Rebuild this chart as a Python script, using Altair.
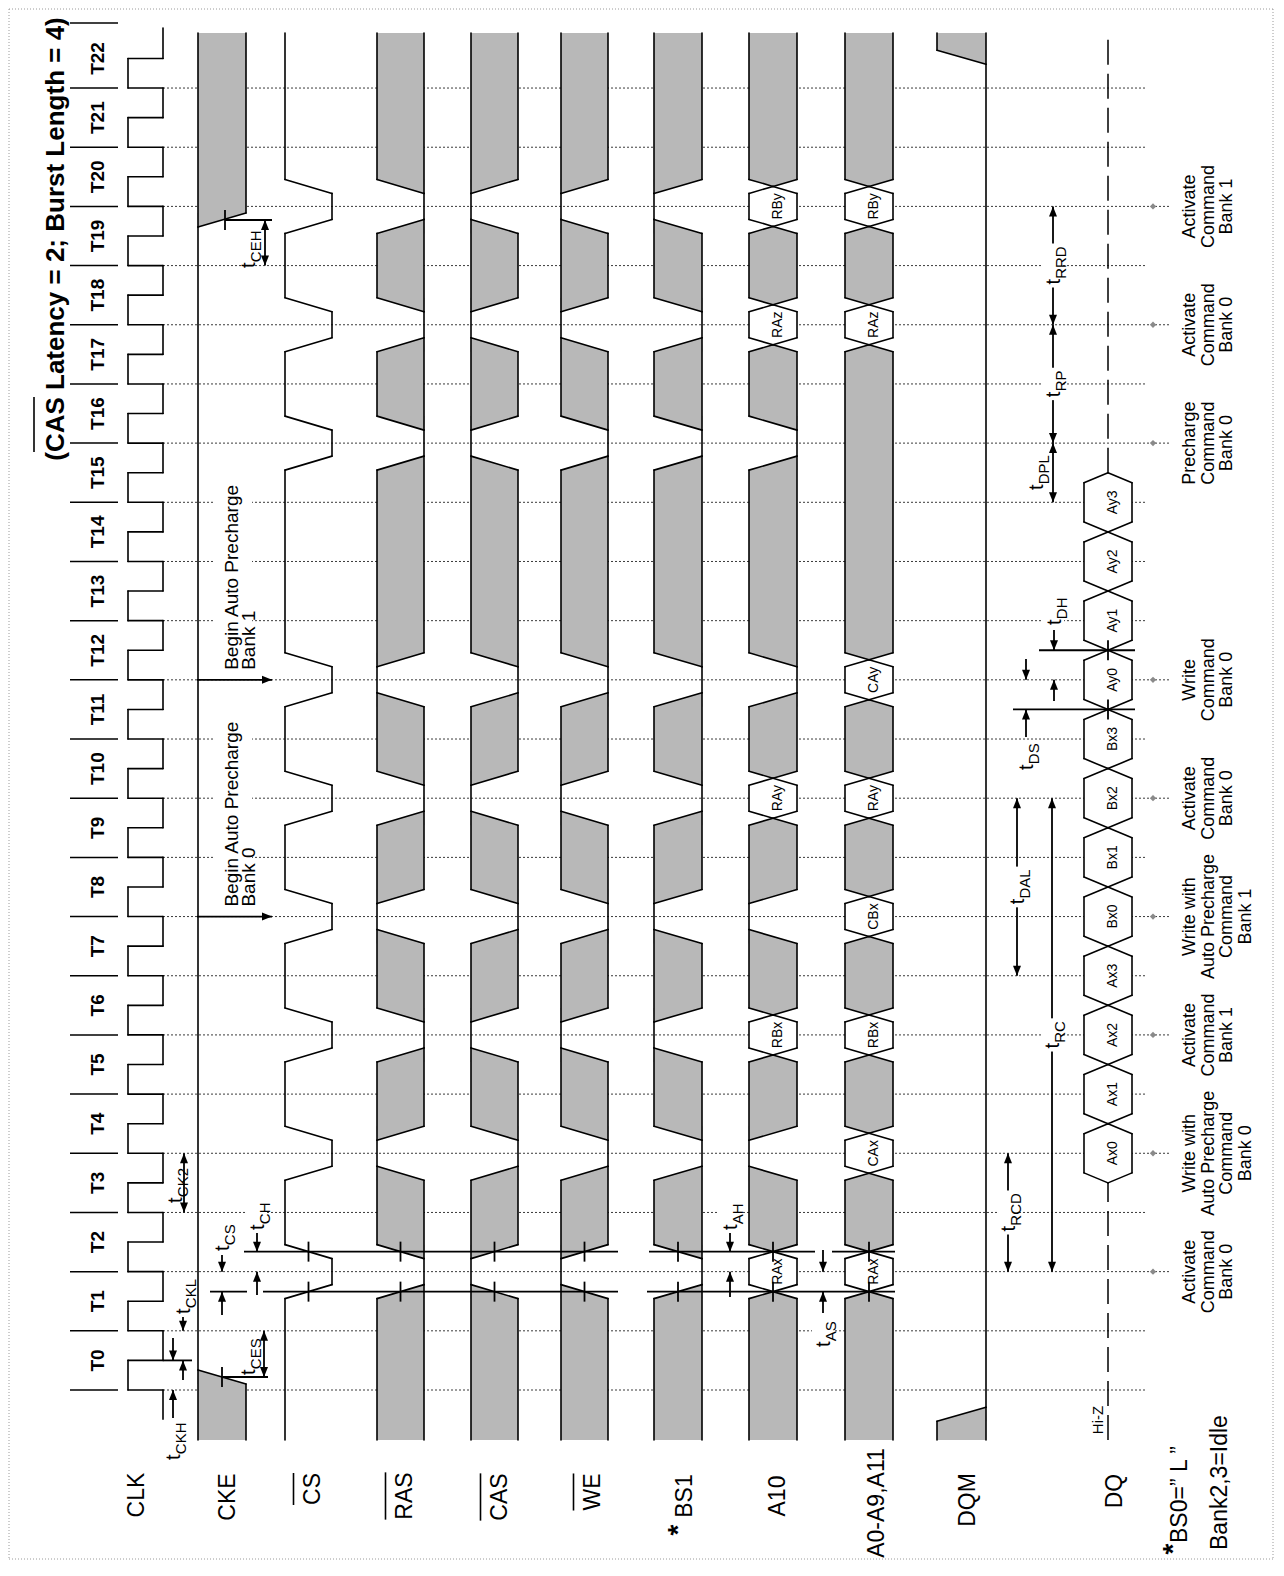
import altair as alt
import pandas as pd

# ============================================================== data
clock_edges = list(range(23))                      # rising CLK edges T0 ... T22
cycle_names = ["T%d" % k for k in clock_edges]

cmd_edges = [2, 4, 6, 8, 10, 12, 16, 18, 20]
cmd_notes = [
    "Activate\nCommand\nBank 0",
    "Write with\nAuto Precharge\nCommand\nBank 0",
    "Activate\nCommand\nBank 1",
    "Write with\nAuto Precharge\nCommand\nBank 1",
    "Activate\nCommand\nBank 0",
    "Write\nCommand\nBank 0",
    "Precharge\nCommand\nBank 0",
    "Activate\nCommand\nBank 0",
    "Activate\nCommand\nBank 1",
]
cs_at_cmd = ["L", "L", "L", "L", "L", "L", "L", "L", "L"]
ras_at_cmd = ["L", "H", "L", "H", "L", "H", "L", "L", "L"]
cas_at_cmd = ["H", "L", "H", "L", "H", "L", "H", "H", "H"]
we_at_cmd = ["H", "L", "H", "L", "H", "L", "L", "H", "H"]
bs1_at_cmd = ["L", "L", "H", "H", "L", "L", "L", "L", "H"]
a10_at_cmd = ["RAx", "H", "RBx", "H", "RAy", "L", "L", "RAz", "RBy"]
adr_at_cmd = ["RAx", "CAx", "RBx", "CBx", "RAy", "CAy", "X", "RAz", "RBy"]

dq_edges = [4, 5, 6, 7, 8, 9, 10, 11, 12, 13, 14, 15]
dq_words = ["Ax0", "Ax1", "Ax2", "Ax3", "Bx0", "Bx1", "Bx2", "Bx3",
            "Ay0", "Ay1", "Ay2", "Ay3"]

cke_valid_high = [0.22, 19.77]     # CKE defined high between these times (cycles)
dqm_valid_low = [-0.41, 22.52]     # DQM defined low between these times (cycles)

signal_names = ["CLK", "CKE", "CS", "RAS", "CAS", "WE", "BS1", "A10",
                "A0-A9,A11", "DQM", "DQ"]
overlined = ["CS", "RAS", "CAS", "WE"]
title_text = "(CAS Latency = 2; Burst Length = 4)"
begin_ap_edges = [8, 12]
begin_ap_notes = ["Begin Auto Precharge\nBank 0", "Begin Auto Precharge\nBank 1"]

# ============================================================== layout
PX = 59.18            # page pixels per clock cycle
Y_T0 = 1390.0         # page row of edge T0


def T(row):
    return (Y_T0 - row) / PX


X_MIN, X_MAX = 8.0, 1274.0
WIDTH, HEIGHT = 1266, 1552
T_MIN, T_MAX = T(8 + HEIGHT), T(8)

WAVE_T0, WAVE_T1, CLK_T1 = T(1440), T(33), T(28)
WIN = 20 / PX          # half width of a command window
SL = 7 / PX            # half height of a slanted transition
DQ_SL = 10 / PX
TICK = 10 / PX

LANE = {"CLK": (128, 163), "CKE": (198, 246), "CS": (285, 332), "RAS": (377, 424),
        "CAS": (471, 518), "WE": (561, 608), "BS1": (654, 702), "A10": (749, 797),
        "A0-A9,A11": (845, 893), "DQM": (937, 986), "DQ": (1084, 1132)}
NAME_BASE = {"CLK": 137, "CKE": 228, "CS": 313, "RAS": 405, "CAS": 500, "WE": 593,
             "BS1": 685, "A10": 778, "A0-A9,A11": 877, "DQM": 968, "DQ": 1115}
NAME_ROW = {"CLK": 1495, "CKE": 1497, "CS": 1489, "RAS": 1496, "CAS": 1497, "WE": 1492,
            "BS1": 1496, "A10": 1496, "A0-A9,A11": 1503, "DQM": 1500, "DQ": 1491}
ARIAL = {"A": .667, "B": .667, "C": .722, "D": .722, "E": .667, "H": .722, "K": .667,
         "L": .556, "P": .667, "R": .722, "S": .667, "W": .944, "2": .556}
FONT = "Liberation Sans"
HATCH = "#b8b8b8"
SUB_SIZE = 15

strokes, bodies, tips, dashes, vlabels, heads, boxes, dots = [], [], [], [], [], [], [], []


def seg(x1, t1, x2, t2, kind="wave"):
    strokes.append({"x": x1, "x2": x2, "t": t1, "t2": t2, "kind": kind})


def tip(L, R, base_t, apex_x, apex_t, kind):
    """triangular end of a bus / don't-care shape, drawn as a custom symbol"""
    r = (R - L) / 2.0
    c = (L + R) / 2.0
    ax = (apex_x - c) / r
    ay = -(apex_t - base_t) * PX / r
    path = "M-1.02,0L1.02,0L%.4f,%.4fZ" % (ax, ay)
    tips.append({"x": c, "t": base_t, "shape": path, "size": (2 * r) ** 2, "kind": kind})


def timeline(default, edges, states, win):
    out, cur = [], WAVE_T0
    for e, s in zip(edges, states):
        if s == default:
            continue
        a, b = e - win, e + win
        if a > cur + 1e-9:
            out.append([cur, a, default])
        out.append([a, b, s])
        cur = b
    out.append([cur, WAVE_T1, default])
    return out


LEVEL = ("H", "L")
EPS = 0.8 / PX


def draw(name, segs, sl):
    L, R = LANE[name]
    C = (L + R) / 2.0
    side = lambda s: L if s == "H" else R
    n = len(segs)
    for i, (ta, tb, s) in enumerate(segs):
        sp = segs[i - 1][2] if i > 0 else None
        sn = segs[i + 1][2] if i < n - 1 else None
        if s in LEVEL:
            x = side(s)
            seg(x, ta + sl if sp else ta, x, tb - sl if sn else tb)
            if sp in LEVEL and sp != s:
                seg(side(sp), ta - sl, x, ta + sl)
            continue
        if s == "Z":
            dashes.append({"x": C, "x2": C, "t": ta, "t2": tb})
            continue
        kind = "dc" if s == "X" else "valid"
        # bottom end
        if sp is None:
            bl = br = ta
            body0 = ta
        elif sp in LEVEL:
            if sp == "H":
                bl, br = ta - sl, ta + sl
            else:
                bl, br = ta + sl, ta - sl
            seg(L, bl, R, br)
            tip(L, R, ta + sl, side(sp), ta - sl, kind)
            body0 = ta + sl - EPS
        else:
            bl = br = ta + sl
            seg(L, bl, C, ta)
            seg(C, ta, R, br)
            tip(L, R, ta + sl, C, ta, kind)
            body0 = ta + sl - EPS
        # top end
        if sn is None:
            tl = tr = tb
            body1 = tb
        elif sn in LEVEL:
            if sn == "H":
                tl, tr = tb + sl, tb - sl
            else:
                tl, tr = tb - sl, tb + sl
            seg(L, tl, R, tr)
            tip(L, R, tb - sl, side(sn), tb + sl, kind)
            body1 = tb - sl + EPS
        else:
            tl = tr = tb - sl
            seg(L, tl, C, tb)
            seg(C, tb, R, tr)
            tip(L, R, tb - sl, C, tb, kind)
            body1 = tb - sl + EPS
        bodies.append({"x": L, "x2": R, "t": body0, "t2": body1, "kind": kind})
        seg(L, bl, L, tl)
        seg(R, br, R, tr)
        if s != "X":
            vlabels.append({"x": C + 5, "t": (ta + tb) / 2, "text": s})


# ---- clock
cl, cr = LANE["CLK"]
seg(cr, WAVE_T0, cr, clock_edges[0])
for k in clock_edges:
    seg(cr, k, cl, k)
    seg(cl, k, cl, k + 0.5)
    seg(cl, k + 0.5, cr, k + 0.5)
    seg(cr, k + 0.5, cr, k + 1 if k < clock_edges[-1] else CLK_T1)

# ---- control / address lanes
draw("CKE", [[WAVE_T0, cke_valid_high[0], "X"], [cke_valid_high[0], cke_valid_high[1], "H"],
             [cke_valid_high[1], WAVE_T1, "X"]], SL)
draw("CS", timeline("H", cmd_edges, cs_at_cmd, WIN), SL)
draw("RAS", timeline("X", cmd_edges, ras_at_cmd, WIN), SL)
draw("CAS", timeline("X", cmd_edges, cas_at_cmd, WIN), SL)
draw("WE", timeline("X", cmd_edges, we_at_cmd, WIN), SL)
draw("BS1", timeline("X", cmd_edges, bs1_at_cmd, WIN), SL)
draw("A10", timeline("X", cmd_edges, a10_at_cmd, WIN), SL)
draw("A0-A9,A11", timeline("X", cmd_edges, adr_at_cmd, WIN), SL)
draw("DQM", [[WAVE_T0, dqm_valid_low[0], "X"], [dqm_valid_low[0], dqm_valid_low[1], "L"],
             [dqm_valid_low[1], WAVE_T1, "X"]], SL)
draw("DQ", timeline("Z", dq_edges, dq_words, 0.5), DQ_SL)

# ---- clock edge guide lines (dotted)
for k in clock_edges:
    dots.append({"x": 163, "x2": 1170 if k in cmd_edges else 1147, "t": k, "t2": k})

# ---- annotation lines
SETUP_T, HOLD_T = cmd_edges[0] - WIN, cmd_edges[0] + WIN
DS_T, DH_T = dq_edges[8] - 0.5, dq_edges[8] + 0.5
ann = [
    (223, cke_valid_high[0], 268, cke_valid_high[0]),
    (225, cke_valid_high[1], 272, cke_valid_high[1]),
    (163, 0.5, 192, 0.5),
    (210, SETUP_T, 247, SETUP_T), (263, SETUP_T, 618, SETUP_T), (647, SETUP_T, 895, SETUP_T),
    (244, HOLD_T, 618, HOLD_T), (649, HOLD_T, 815, HOLD_T), (832, HOLD_T, 895, HOLD_T),
    (1013, DS_T, 1135, DS_T), (1039, DH_T, 1135, DH_T),
]
for e in begin_ap_edges:
    ann.append((197, e, 272, e))
    heads.append({"x": 272, "t": e, "dir": "right"})
for x1, t1, x2, t2 in ann:
    seg(x1, t1, x2, t2, "ann")

ticks = [(222, cke_valid_high[0]), (225, cke_valid_high[1])]
for nm in ["CS", "RAS", "CAS", "WE", "BS1", "A10", "A0-A9,A11"]:
    c = sum(LANE[nm]) / 2
    ticks += [(c, SETUP_T), (c, HOLD_T)]
ticks += [(1108, DS_T), (1108, DH_T)]
for x, t in ticks:
    seg(x, t - TICK, x, t + TICK, "ann")


def arrow(x, t_tail, t_tip):
    seg(x, t_tail, x, t_tip, "ann")
    heads.append({"x": x, "t": t_tip, "dir": "up" if t_tip > t_tail else "down"})


def darrow(x, ta, tb):
    seg(x, ta, x, tb, "ann")
    heads.append({"x": x, "t": ta, "dir": "down" if ta < tb else "up"})
    heads.append({"x": x, "t": tb, "dir": "up" if ta < tb else "down"})


arrow(173, T(1418), 0); arrow(173, T(1338), 0.5)            # tCKH
arrow(183, T(1380), 0.5); arrow(183, T(1313), 1)            # tCKL
darrow(184, 3, 4)                                           # tCK2
darrow(264, cke_valid_high[0], 1)                           # tCES
darrow(265, cke_valid_high[1], 19)                          # tCEH
arrow(222, T(1255), 2); arrow(222, T(1315), SETUP_T)        # tCS
arrow(257, T(1232), HOLD_T); arrow(257, T(1295), 2)         # tCH
arrow(730, T(1232), HOLD_T); arrow(730, T(1297), 2)         # tAH
arrow(823, T(1250), 2); arrow(823, T(1313), SETUP_T)        # tAS
darrow(1008, 2, 4)                                          # tRCD
darrow(1052, 2, 10)                                         # tRC
darrow(1017, 7, 10)                                         # tDAL
arrow(1026, T(737), DS_T); arrow(1026, T(659), 12)          # tDS
arrow(1054, T(701), 12); arrow(1054, T(630), DH_T)          # tDH
darrow(1053, 15, 16)                                        # tDPL
darrow(1053, 16, 18)                                        # tRP
darrow(1053, 18, 20)                                        # tRRD

# timing labels: subscript, centre x, start time, centre time, white gap behind
tl_specs = [
    ("CKH", 173, T(1460), None, True), ("CKL", 183, T(1314), None, True),
    ("CK2", 175, T(1203), None, False), ("CES", 248, T(1375), None, False),
    ("CEH", 248, T(268), None, False), ("CS", 222, T(1251), None, True),
    ("CH", 257, T(1230), None, True), ("AH", 730, T(1230), None, True),
    ("AS", 823, T(1347), None, True), ("RCD", 1008, None, 3.0, True),
    ("RC", 1052, None, 6.0, True), ("DAL", 1017, None, 8.5, True),
    ("DS", 1026, T(770), None, True), ("DH", 1054, T(625), None, True),
    ("DPL", 1036, None, 15.5, False), ("RP", 1053, None, 17.0, True),
    ("RRD", 1053, None, 19.0, True),
]
t_main, t_sub = [], []
for sub, xc, ts, tc, gap in tl_specs:
    w = 0.278 * 20 + sum(ARIAL[c] for c in sub) * SUB_SIZE
    if ts is None:
        ts = tc - (w / 2) / PX
    t_main.append({"x": xc + 1, "t": ts, "text": "t"})
    t_sub.append({"x": xc + 8, "t": ts + 5.8 / PX, "text": sub})
    if gap:
        boxes.append({"x": xc - 11, "x2": xc + 10, "t": ts - 3 / PX, "t2": ts + (w + 3) / PX})

for e in begin_ap_edges:
    r0 = Y_T0 - e * PX - 8
    boxes.append({"x": 213, "x2": 252, "t": T(r0), "t2": T(r0 - 190)})

# frame
frame = [(9, T(9), 1273, T(9)), (9, T(1559), 1273, T(1559)),
         (9, T(9), 9, T(1559)), (1273, T(9), 1273, T(1559))]
frame_df = pd.DataFrame([{"x": a, "t": b, "x2": c, "t2": d} for a, b, c, d in frame])

# T label separators
sep = [{"x": 70, "x2": 118, "t": k, "t2": k} for k in clock_edges]
sep.append({"x": 70, "x2": 118, "t": T(23), "t2": T(23)})
sep_df = pd.DataFrame(sep)

# overlines
over = []
for nm in overlined:
    wname = sum(ARIAL[c] for c in nm) * 23
    r = NAME_ROW[nm]
    over.append({"x": NAME_BASE[nm] - 19.5, "x2": NAME_BASE[nm] - 19.5,
                 "t": T(r + wname / 2), "t2": T(r - wname / 2)})
over.append({"x": 34, "x2": 34, "t": T(452), "t2": T(397)})
over_df = pd.DataFrame(over)

# ============================================================== chart
XS = alt.Scale(domain=[X_MIN, X_MAX], nice=False, zero=False)
YS = alt.Scale(domain=[T_MIN, T_MAX], nice=False, zero=False)
X = alt.X("x:Q", scale=XS, axis=None)
Y = alt.Y("t:Q", scale=YS, axis=None)
KIND = alt.Color("kind:N", scale=alt.Scale(domain=["dc", "valid"], range=[HATCH, "white"]),
                 legend=None)


def rules(df, **kw):
    return alt.Chart(df).mark_rule(**kw).encode(x=X, x2="x2:Q", y=Y, y2="t2:Q")


def texts(df, **kw):
    base = dict(font=FONT, angle=270, color="black")
    base.update(kw)
    return alt.Chart(df).mark_text(**base).encode(x=X, y=Y, text="text:N")


sdf = pd.DataFrame(strokes)

layers = [
    rules(frame_df, color="#9a9a9a", strokeDash=[1, 2], strokeWidth=1),
    rules(pd.DataFrame(dots), color="#3a3a3a", strokeDash=[2, 2], strokeWidth=1),
    # shape bodies and their pointed / slanted ends
    alt.Chart(pd.DataFrame(bodies)).mark_rect(strokeWidth=0).encode(
        x=X, x2="x2:Q", y=Y, y2="t2:Q", color=KIND),
    alt.Chart(pd.DataFrame(tips)).mark_point(filled=True, opacity=1, strokeWidth=0).encode(
        x=X, y=Y, color=KIND,
        shape=alt.Shape("shape:N", scale=None, legend=None),
        size=alt.Size("size:Q", scale=None, legend=None)),
    rules(pd.DataFrame(dashes), color="black", strokeDash=[25, 9], strokeWidth=1.5),
    rules(sdf[sdf.kind == "wave"], color="black", strokeWidth=1.6, strokeCap="round"),
    rules(sdf[sdf.kind == "ann"], color="black", strokeWidth=1.8),
    alt.Chart(pd.DataFrame(heads)).mark_point(filled=True, size=400, opacity=1, color="black",
                                              strokeWidth=0).encode(
        x=X, y=Y,
        shape=alt.Shape("dir:N", scale=alt.Scale(
            domain=["up", "down", "right"],
            range=["M0,0L-0.4,1L0.4,1Z", "M0,0L-0.4,-1L0.4,-1Z", "M0,0L-1,-0.4L-1,0.4Z"]),
            legend=None)),
    alt.Chart(pd.DataFrame(boxes)).mark_rect(color="white").encode(
        x=X, x2="x2:Q", y=Y, y2="t2:Q"),
    alt.Chart(pd.DataFrame({"x": [1153] * len(cmd_edges), "t": cmd_edges})).mark_point(
        shape="diamond", filled=True, size=40, color="#8a8a8a", opacity=1).encode(x=X, y=Y),
    rules(sep_df, color="black", strokeWidth=1.5),
    rules(over_df, color="black", strokeWidth=1.6),
    # title
    texts(pd.DataFrame([{"x": 56, "t": T(239), "text": title_text}]),
          fontSize=26, fontWeight="bold", align="center"),
    # cycle names
    texts(pd.DataFrame({"x": [98] * 23, "t": [k + 0.5 for k in clock_edges], "text": cycle_names}),
          fontSize=19, fontWeight="bold", align="center"),
    # signal names
    texts(pd.DataFrame({"x": [NAME_BASE[n] for n in signal_names],
                        "t": [T(NAME_ROW[n]) for n in signal_names], "text": signal_names}),
          fontSize=23, align="center"),
    texts(pd.DataFrame([{"x": 679, "t": T(1530), "text": "*"}, {"x": 1174, "t": T(1549), "text": "*"}]),
          fontSize=28, fontWeight="bold", align="center"),
    texts(pd.DataFrame([{"x": 1180, "t": T(1543), "text": "BS0=\u201d L \u201d"},
                        {"x": 1220, "t": T(1550), "text": "Bank2,3=Idle"}]),
          fontSize=23, align="left"),
    texts(pd.DataFrame([{"x": 1098, "t": T(1420), "text": "Hi-Z"}]), fontSize=15, align="center"),
    # begin auto precharge notes
    texts(pd.DataFrame({"x": [232] * 2, "t": [e + 10 / PX for e in begin_ap_edges],
                        "text": begin_ap_notes}),
          fontSize=19, align="left", lineBreak="\n", lineHeight=17),
    # command notes
    texts(pd.DataFrame({"x": [1190] * len(cmd_edges), "t": cmd_edges, "text": cmd_notes}),
          fontSize=18, align="center", lineBreak="\n", lineHeight=18.5),
    # bus value labels
    texts(pd.DataFrame(vlabels), fontSize=14, align="center"),
    # timing labels
    texts(pd.DataFrame(t_main), fontSize=20, align="left"),
    texts(pd.DataFrame(t_sub), fontSize=SUB_SIZE, align="left"),
]

chart = alt.layer(*layers).properties(
    width=WIDTH, height=HEIGHT, padding=0,
    autosize=alt.AutoSizeParams(type="none"), background="white",
).configure_view(stroke=None)

chart.save("out.html", embed_options={"renderer": "svg", "actions": False})
